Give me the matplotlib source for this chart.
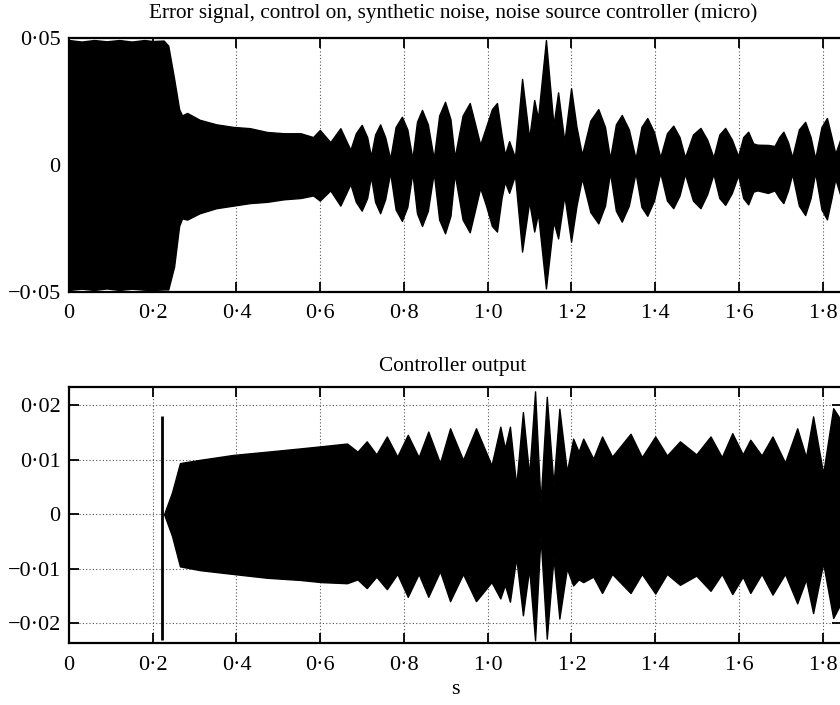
import matplotlib
matplotlib.use("Agg")
import matplotlib.pyplot as plt

# ---------------- data (envelopes) ----------------
err_t = [0.000, 0.030, 0.060, 0.090, 0.120, 0.150, 0.180, 0.200, 0.226, 0.237,
         0.251, 0.263, 0.270, 0.282, 0.312, 0.352, 0.392, 0.432, 0.473, 0.513,
         0.553, 0.583, 0.599, 0.624, 0.648, 0.672, 0.685, 0.699, 0.712, 0.721,
         0.731, 0.743, 0.755, 0.767, 0.780, 0.795, 0.808, 0.820, 0.831, 0.843,
         0.857, 0.871, 0.884, 0.898, 0.911, 0.921, 0.940, 0.957, 0.970, 0.982,
         0.996, 1.010, 1.022, 1.033, 1.041, 1.051, 1.065, 1.082, 1.099, 1.111,
         1.120, 1.139, 1.157, 1.168, 1.183, 1.199, 1.212, 1.225, 1.245, 1.264,
         1.280, 1.292, 1.306, 1.320, 1.337, 1.353, 1.367, 1.381, 1.397, 1.412,
         1.428, 1.443, 1.458, 1.471, 1.490, 1.508, 1.524, 1.539, 1.553, 1.567,
         1.583, 1.598, 1.610, 1.622, 1.634, 1.644, 1.669, 1.685, 1.696, 1.706,
         1.717, 1.727, 1.743, 1.758, 1.771, 1.782, 1.797, 1.810, 1.821, 1.830,
         1.846]
err_up = [0.0492, 0.0486, 0.0492, 0.0487, 0.0492, 0.0486, 0.0492, 0.0488, 0.0490, 0.0470,
          0.0340, 0.0220, 0.0195, 0.0205, 0.0178, 0.0160, 0.0150, 0.0145, 0.0130, 0.0125,
          0.0125, 0.0110, 0.0138, 0.0090, 0.0145, 0.0060, 0.0125, 0.0158, 0.0110, 0.0035,
          0.0120, 0.0160, 0.0110, 0.0025, 0.0150, 0.0190, 0.0140, 0.0025, 0.0170, 0.0217,
          0.0160, 0.0025, 0.0195, 0.0249, 0.0180, 0.0030, 0.0195, 0.0244, 0.0160, 0.0080,
          0.0150, 0.0220, 0.0244, 0.0120, 0.0040, 0.0094, 0.0030, 0.0339, 0.0105, 0.0256,
          0.0184, 0.0492, 0.0157, 0.0286, 0.0092, 0.0302, 0.0150, 0.0040, 0.0175, 0.0220,
          0.0150, 0.0025, 0.0160, 0.0197, 0.0140, 0.0025, 0.0150, 0.0185, 0.0130, 0.0030,
          0.0125, 0.0155, 0.0110, 0.0030, 0.0120, 0.0146, 0.0100, 0.0030, 0.0120, 0.0146,
          0.0100, 0.0035, 0.0110, 0.0131, 0.0085, 0.0080, 0.0079, 0.0075, 0.0110, 0.0131,
          0.0090, 0.0030, 0.0140, 0.0170, 0.0110, 0.0025, 0.0150, 0.0185, 0.0110, 0.0045,
          0.0120]
err_lo = [-0.0492, -0.0487, -0.0492, -0.0486, -0.0492, -0.0487, -0.0491, -0.0492, -0.0490, -0.0490,
          -0.0400, -0.0240, -0.0210, -0.0215, -0.0190, -0.0170, -0.0160, -0.0150, -0.0145, -0.0135,
          -0.0130, -0.0120, -0.0140, -0.0100, -0.0160, -0.0075, -0.0145, -0.0180, -0.0130, -0.0045,
          -0.0145, -0.0190, -0.0135, -0.0030, -0.0175, -0.0220, -0.0165, -0.0030, -0.0190, -0.0240,
          -0.0180, -0.0030, -0.0215, -0.0269, -0.0200, -0.0035, -0.0215, -0.0265, -0.0175, -0.0090,
          -0.0160, -0.0240, -0.0262, -0.0130, -0.0066, -0.0110, -0.0040, -0.0341, -0.0144, -0.0262,
          -0.0190, -0.0486, -0.0223, -0.0289, -0.0120, -0.0302, -0.0160, -0.0052, -0.0185, -0.0230,
          -0.0160, -0.0030, -0.0180, -0.0223, -0.0160, -0.0030, -0.0165, -0.0200, -0.0140, -0.0030,
          -0.0140, -0.0170, -0.0120, -0.0035, -0.0140, -0.0170, -0.0115, -0.0035, -0.0130, -0.0157,
          -0.0110, -0.0040, -0.0130, -0.0155, -0.0105, -0.0100, -0.0110, -0.0100, -0.0130, -0.0150,
          -0.0100, -0.0035, -0.0160, -0.0197, -0.0130, -0.0030, -0.0175, -0.0214, -0.0130, -0.0055,
          -0.0140]

ctl_t = [0.227, 0.246, 0.265, 0.313, 0.392, 0.473, 0.552, 0.603, 0.664, 0.689,
         0.711, 0.734, 0.759, 0.784, 0.809, 0.835, 0.858, 0.886, 0.910, 0.941,
         0.972, 1.009, 1.030, 1.041, 1.053, 1.068, 1.084, 1.099, 1.113, 1.126,
         1.141, 1.157, 1.171, 1.189, 1.204, 1.217, 1.228, 1.252, 1.273, 1.297,
         1.341, 1.368, 1.400, 1.428, 1.459, 1.498, 1.532, 1.559, 1.584, 1.609,
         1.627, 1.654, 1.680, 1.710, 1.739, 1.760, 1.777, 1.801, 1.825, 1.846]
ctl_up = [0.0, 0.0040, 0.0094, 0.0100, 0.0109, 0.0115, 0.0121, 0.0125, 0.0130, 0.0115,
          0.0134, 0.0110, 0.0143, 0.0106, 0.0146, 0.0105, 0.0152, 0.0094, 0.0158, 0.0100,
          0.0158, 0.0090, 0.0161, 0.0121, 0.0161, 0.0053, 0.0188, 0.0072, 0.0226, 0.0020,
          0.0216, 0.0053, 0.0194, 0.0078, 0.0139, 0.0115, 0.0139, 0.0102, 0.0143, 0.0106,
          0.0148, 0.0105, 0.0143, 0.0108, 0.0134, 0.0110, 0.0143, 0.0105, 0.0149, 0.0110,
          0.0137, 0.0108, 0.0143, 0.0095, 0.0158, 0.0105, 0.0180, 0.0075, 0.0195, 0.0170]
ctl_lo = [0.0, -0.0040, -0.0096, -0.0103, -0.0110, -0.0117, -0.0121, -0.0125, -0.0127, -0.0120,
          -0.0136, -0.0115, -0.0138, -0.0110, -0.0152, -0.0110, -0.0152, -0.0105, -0.0160, -0.0110,
          -0.0160, -0.0125, -0.0155, -0.0130, -0.0161, -0.0080, -0.0186, -0.0100, -0.0232, -0.0040,
          -0.0229, -0.0080, -0.0192, -0.0100, -0.0131, -0.0120, -0.0125, -0.0115, -0.0145, -0.0110,
          -0.0145, -0.0110, -0.0146, -0.0110, -0.0130, -0.0113, -0.0141, -0.0110, -0.0147, -0.0115,
          -0.0145, -0.0110, -0.0148, -0.0110, -0.0164, -0.0120, -0.0182, -0.0090, -0.0191, -0.0160]

spike_t = 0.221
spike_top = 0.018
spike_bottom = -0.0232

x_ticks = [0, 0.2, 0.4, 0.6, 0.8, 1.0, 1.2, 1.4, 1.6, 1.8]
x_labels = ["0", "0·2", "0·4", "0·6", "0·8", "1·0", "1·2", "1·4", "1·6", "1·8"]
top_yticks = [-0.05, 0, 0.05]
top_ylabels = ["−0·05", "0", "0·05"]
bot_yticks = [-0.02, -0.01, 0, 0.01, 0.02]
bot_ylabels = ["−0·02", "−0·01", "0", "0·01", "0·02"]

title_top = "Error signal, control on, synthetic noise, noise source controller (micro)"
title_bot = "Controller output"
xlabel = "s"

# ---------------- styling ----------------
plt.rcParams['font.family'] = ['Liberation Serif', 'DejaVu Serif']
plt.rcParams['font.size'] = 16

W, H = 840, 705
fig = plt.figure(figsize=(W / 100, H / 100), dpi=100)

def px_axes(left, right, top, bottom):
    return fig.add_axes([left / W, 1 - bottom / H, (right - left) / W, (bottom - top) / H])

ax1 = px_axes(69, 842, 38, 292)
ax2 = px_axes(69, 842, 387, 643)

def style(ax, yt, yl, ylim):
    ax.set_xlim(0, 1.846)
    ax.set_ylim(*ylim)
    ax.set_xticks(x_ticks)
    ax.set_xticklabels(x_labels)
    ax.set_yticks(yt)
    ax.set_yticklabels(yl)
    ax.tick_params(direction='in', length=7, width=1.3, top=True, right=True,
                   labelsize=16, pad=6)
    ax.tick_params(axis='x', pad=9)
    for s in ax.spines.values():
        s.set_linewidth(1.6)
    ax.grid(True, linestyle=(0, (1, 2)), color='#555555', linewidth=0.8)
    ax.set_axisbelow(True)

style(ax1, top_yticks, top_ylabels, (-0.05, 0.05))
style(ax2, bot_yticks, bot_ylabels, (-0.0237, 0.0234))

ax1.fill_between(err_t, err_lo, err_up, color='black', linewidth=1.0, edgecolor='black', zorder=3)
ax2.fill_between(ctl_t, ctl_lo, ctl_up, color='black', linewidth=1.0, edgecolor='black', zorder=3)
ax2.vlines([spike_t], [spike_bottom], [spike_top], color='black', linewidth=2.0, zorder=3)

fig.text(453 / W, 1 - 13 / H, title_top, ha='center', va='center', fontsize=15.3)
fig.text(453 / W, 1 - 367 / H, title_bot, ha='center', va='center', fontsize=15.3)
fig.text(455 / W, 1 - 690 / H, xlabel, ha='center', va='center', fontsize=16)

fig.savefig("out.png", dpi=100)
